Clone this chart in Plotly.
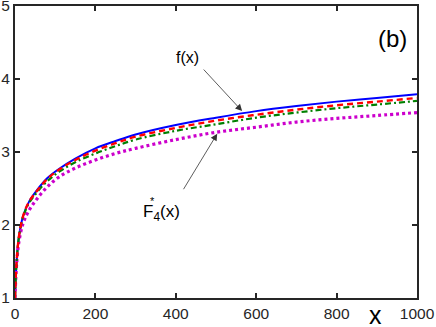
import plotly.graph_objects as go

x_vals = [0, 2, 5, 10, 20, 35, 55, 80, 110, 150, 200, 250, 300, 400, 500, 600, 700, 800, 900, 1000]
f_exact = [1.0, 1.3, 1.57, 1.85, 2.12, 2.32, 2.48, 2.64, 2.77, 2.91, 3.05, 3.15, 3.24, 3.37, 3.47, 3.56, 3.63, 3.69, 3.74, 3.79]
f_red = [1.0, 1.3, 1.57, 1.85, 2.12, 2.32, 2.47, 2.63, 2.76, 2.89, 3.02, 3.12, 3.21, 3.33, 3.43, 3.51, 3.58, 3.64, 3.69, 3.74]
f_green = [1.0, 1.3, 1.57, 1.84, 2.11, 2.30, 2.45, 2.60, 2.73, 2.86, 2.98, 3.08, 3.17, 3.29, 3.38, 3.47, 3.54, 3.60, 3.65, 3.70]
f_star4 = [1.0, 1.28, 1.53, 1.78, 2.02, 2.20, 2.36, 2.52, 2.66, 2.78, 2.89, 2.98, 3.05, 3.17, 3.27, 3.34, 3.41, 3.46, 3.50, 3.54]

x_ticks = [0, 200, 400, 600, 800, 1000]
y_ticks = [1, 2, 3, 4, 5]

FONT = "Liberation Sans, Arial, sans-serif"
AX = "#262626"

fig = go.Figure()
fig.add_trace(go.Scatter(x=x_vals, y=f_exact, mode="lines", line=dict(color="#0000ff", width=2, shape="spline")))
fig.add_trace(go.Scatter(x=x_vals, y=f_star4, mode="lines", line=dict(color="#cc00cc", width=3.2, dash="3px,3px", shape="spline")))
fig.add_trace(go.Scatter(x=x_vals, y=f_green, mode="lines", line=dict(color="#008000", width=2.2, dash="6px,3px,2px,3px", shape="spline")))
fig.add_trace(go.Scatter(x=x_vals, y=f_red, mode="lines", line=dict(color="#ff0000", width=2.4, dash="6px,4px", shape="spline")))

axis_common = dict(showline=True, linecolor=AX, linewidth=2, mirror="ticks", ticks="inside",
                   ticklen=5, tickwidth=1.5, tickcolor=AX, showgrid=False, zeroline=False,
                   tickfont=dict(family=FONT, size=15.5, color=AX), automargin=False,
                   ticklabeloverflow="allow")

fig.update_xaxes(range=[0, 1000], tickvals=x_ticks, ticktext=[str(v) for v in x_ticks], **axis_common)
fig.update_yaxes(range=[1, 5], tickvals=y_ticks, ticktext=[str(v) for v in y_ticks], **axis_common)

annotations = [
    dict(xref="paper", yref="paper", x=0.94, y=0.889, xanchor="center", yanchor="middle", text="(b)",
         showarrow=False, font=dict(family=FONT, size=24, color="black")),
    dict(xref="paper", yref="paper", x=0.898, y=-0.057, xanchor="center", yanchor="middle", text="x",
         showarrow=False, font=dict(family=FONT, size=25, color="black")),
    dict(x=428, y=4.29, xanchor="center", yanchor="middle", text="f(x)", showarrow=False,
         font=dict(family=FONT, size=16, color="black")),
    dict(x=565, y=3.56, ax=466, ay=4.15, axref="x", ayref="y", text="", showarrow=True,
         arrowhead=2, arrowsize=1.7, arrowwidth=0.8, arrowcolor="#333333"),
    dict(x=364, y=2.16, text="F<sub>4</sub>(x)", showarrow=False, font=dict(family=FONT, size=17, color="black")),
    dict(x=341, y=2.33, text="*", showarrow=False, font=dict(family=FONT, size=11, color="black")),
    dict(x=503, y=3.25, ax=417, ay=2.47, axref="x", ayref="y", text="", showarrow=True,
         arrowhead=2, arrowsize=1.7, arrowwidth=0.8, arrowcolor="#333333"),
]

fig.update_layout(width=436, height=327, margin=dict(l=15, r=19, t=6, b=29),
                  paper_bgcolor="white", plot_bgcolor="white", showlegend=False,
                  annotations=annotations)

fig.write_html("out.html", config={"displayModeBar": False},
               post_script="document.body.style.margin='0';document.body.style.padding='0';")
